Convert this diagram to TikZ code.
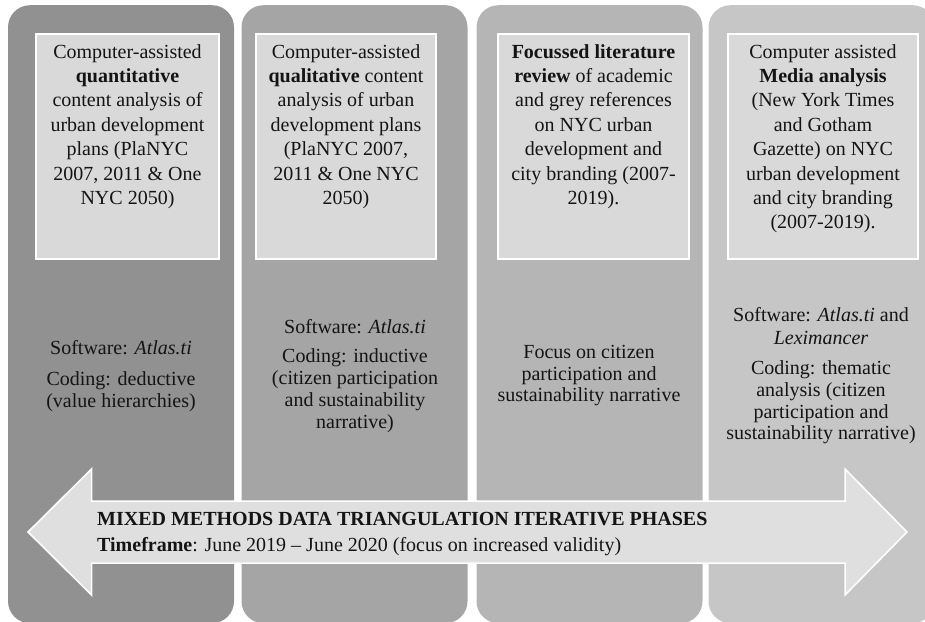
\documentclass[tikz,border=0pt]{standalone}
\usepackage{fontspec}
\setmainfont{Liberation Serif}
\usetikzlibrary{positioning}
\definecolor{phaseA}{RGB}{145,145,145}
\definecolor{phaseB}{RGB}{165,165,165}
\definecolor{phaseC}{RGB}{181,181,181}
\definecolor{phaseD}{RGB}{198,198,198}
\definecolor{boxgray}{RGB}{217,217,217}
\definecolor{arrowgray}{RGB}{223,223,223}
\definecolor{inkgray}{RGB}{20,20,20}

\begin{document}
\begin{tikzpicture}[x=1pt,y=-1pt,
    phase/.style={rectangle,rounded corners=22pt,minimum width=226pt,minimum height=618pt,inner sep=0pt,anchor=north},
    methodbox/.style={rectangle,fill=boxgray,draw=white,line width=1.5pt,minimum height=225pt,inner sep=0pt,anchor=north},
    boxtext/.style={align=center,inner sep=0pt,text=inkgray,font=\fontsize{20}{24.4}\selectfont},
    notetext/.style={align=center,inner sep=0pt,anchor=north,text=inkgray,font=\fontsize{20}{21.7}\selectfont}]
    \useasboundingbox (0,0) rectangle (925,621);
    \clip (0,0) rectangle (925,621);
    % the four phase columns
    \node[phase,fill=phaseA] (phase1) at (121,5) {};
    \node[phase,fill=phaseB] (phase2) at (354.5,5) {};
    \node[phase,fill=phaseC] (phase3) at (589.5,5) {};
    \node[phase,fill=phaseD] (phase4) at (821.5,5) {};
    % method boxes
    \node[methodbox,minimum width=183pt] (box1) at (127.5,33) {};
    \node[methodbox,minimum width=180pt] (box2) at (346,33) {};
    \node[methodbox,minimum width=191pt] (box3) at (593.5,33) {};
    \node[methodbox,minimum width=190pt] (box4) at (823,33) {};
    \node[boxtext,below=11pt of box1.north] (method1) {Computer-assisted\\\textbf{quantitative}\\content analysis of\\urban development\\plans (PlaNYC\\2007, 2011 \& One\\NYC 2050)};
    \node[boxtext,below=11pt of box2.north] (method2) {Computer-assisted\\\textbf{qualitative} content\\analysis of urban\\development plans\\(PlaNYC 2007,\\2011 \& One NYC\\2050)};
    \node[boxtext,below=11pt of box3.north] (method3) {\textbf{Focussed literature}\\\textbf{review} of academic\\and grey references\\on NYC urban\\development and\\city branding (2007-\\2019).};
    \node[boxtext,below=11pt of box4.north] (method4) {Computer assisted\\\textbf{Media analysis}\\(New York Times\\and Gotham\\Gazette) on NYC\\urban development\\and city branding\\(2007-2019).};
    % notes under the boxes
    \node[notetext] (note1) at (121,340) {Software: \textit{Atlas.ti}\\[10pt]Coding: deductive\\(value hierarchies)};
    \node[notetext] (note2) at (355,319) {Software: \textit{Atlas.ti}\\[8pt]Coding: inductive\\(citizen participation\\and sustainability\\narrative)};
    \node[notetext] (note3) at (589,345) {Focus on citizen\\participation and\\sustainability narrative};
    \node[notetext] (note4) at (821,307) {Software: \textit{Atlas.ti} and\\[2pt]\textit{Leximancer}\\[8pt]Coding: thematic\\analysis (citizen\\participation and\\sustainability narrative)};
    % double arrow across the phases
    \draw[fill=arrowgray,draw=white,line width=1.5pt] (28,532) -- (91.5,469) -- (91.5,501) -- (845,501) -- (845,469) -- (907,532)
        -- (845,595) -- (845,563) -- (91.5,563) -- (91.5,595) -- cycle;
    \node[align=left,inner sep=0pt,anchor=north west,text=inkgray,font=\fontsize{20}{26}\selectfont] (banner) at (97,512)
        {\textbf{MIXED METHODS DATA TRIANGULATION ITERATIVE PHASES}\\\textbf{Timeframe}: June 2019 – June 2020 (focus on increased validity)};
\end{tikzpicture}
\end{document}
